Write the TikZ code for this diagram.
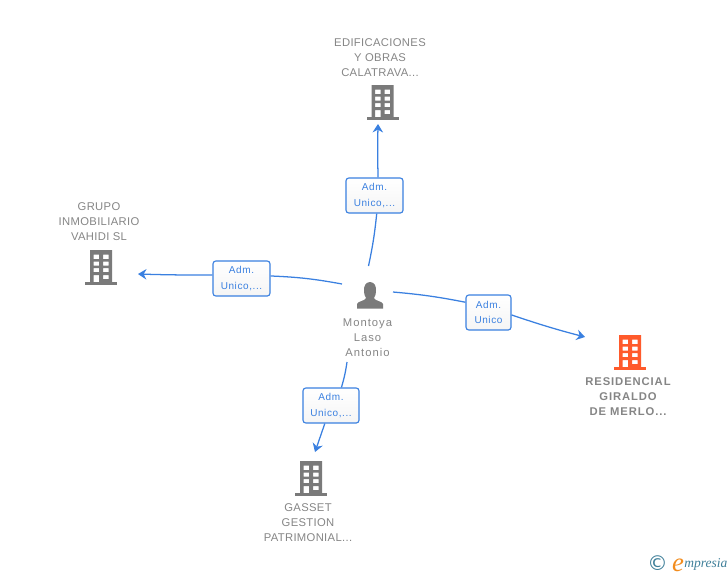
\documentclass[tikz,border=0pt]{standalone}
\usepackage{fontspec}
\setmainfont{Liberation Sans}
\newfontfamily\labelfont[LetterSpace=3]{Liberation Sans}
\newfontfamily\personfont[LetterSpace=9]{Liberation Sans}
\newfontfamily\adminfont[LetterSpace=6]{Liberation Sans}
\newfontfamily\boldlabelfont[LetterSpace=8]{Liberation Sans Bold}
\newfontfamily\logofont{Liberation Serif Italic}
\newfontfamily\symbolfont{DejaVu Sans}
\usetikzlibrary{arrows.meta}
\definecolor{linkblue}{HTML}{3A80E0}
\definecolor{officegrey}{HTML}{7A7A7A}
\definecolor{textgrey}{HTML}{858585}
\definecolor{activeorange}{HTML}{FF5A2B}
\definecolor{logoteal}{HTML}{3F7F99}
\definecolor{logoorange}{HTML}{F28C1E}

\begin{document}
\begin{tikzpicture}[
            x=0.025cm,
            y=-0.025cm,
            >={Stealth[length=6pt, width=7.5pt, inset=2pt]},
            link/.style={draw=linkblue, line width=0.9pt},
            admin/.style={
                draw=linkblue,
                line width=0.8pt,
                rounded corners=2pt,
                top color=white,
                bottom color=black!4,
                text=linkblue,
                align=center,
                inner sep=0pt,
                minimum height=0.875cm,
                font=\adminfont\fontsize{7.1}{11}\selectfont
            },
            company/.style={
                text=textgrey,
                align=center,
                inner sep=0pt,
                font=\labelfont\fontsize{8}{10.6}\selectfont
            },
            building/.pic={
                \fill[#1, even odd rule] (-11,-17) rectangle (11,15)
                    (-7.5,-12.5) rectangle (-2,-8)   (2,-12.5) rectangle (7.5,-8)
                    (-7.5,-5.5) rectangle (-2,-1.5) (2,-5.5) rectangle (7.5,-1.5)
                    (-7.5,1) rectangle (-2,5)      (2,1) rectangle (7.5,5)
                    (-7.5,8) rectangle (-2,15)     (2,8) rectangle (7.5,12);
                \fill[#1] (-16,15) rectangle (16,18);
            }
        ]
            \useasboundingbox (0,0) rectangle (728,575);
            % companies
            \pic at (382.5,102) {building=officegrey};
            \pic at (101,267) {building=officegrey};
            \pic at (311,478) {building=officegrey};
            \pic at (630,352) {building=activeorange};
            \node[company] (edificaciones) at (380,58) {EDIFICACIONES\\Y OBRAS\\CALATRAVA...};
            \node[company] (grupo) at (99,222) {GRUPO\\INMOBILIARIO\\VAHIDI SL};
            \node[company] (gasset) at (308,523) {GASSET\\GESTION\\PATRIMONIAL...};
            \node[company, font=\boldlabelfont\fontsize{8}{10.6}\selectfont] (residencial) at (628,397) {RESIDENCIAL\\GIRALDO\\DE MERLO...};
            % person
            \fill[officegrey] (370,282) .. controls (365,282) and (364,287) .. (364,290)
                .. controls (364,294) and (365,297) .. (366,298)
                .. controls (365,301) and (358,301) .. (357,304)
                -- (357,308.5) -- (383,308.5) -- (383,304)
                .. controls (382,301) and (375,301) .. (374,298)
                .. controls (375,297) and (376,294) .. (376,290)
                .. controls (376,287) and (375,282) .. (370,282) -- cycle;
            \node[company, font=\personfont\fontsize{8}{10.6}\selectfont] (montoya) at (367.5,338) {Montoya\\Laso\\Antonio};
            % roles
            \node[admin, minimum width=1.425cm] (admup) at (374.5,195.5) {Adm.\\Unico,...};
            \node[admin, minimum width=1.425cm] (admleft) at (241.5,278.5) {Adm.\\Unico,...};
            \node[admin, minimum width=1.125cm] (admright) at (488.5,312.5) {Adm.\\Unico};
            \node[admin, minimum width=1.4cm] (admdown) at (331,405.5) {Adm.\\Unico,...};
            % free ends
            \coordinate (montoyaup) at (368.5,266);
            \coordinate (montoyaleft) at (342,284);
            \coordinate (montoyaright) at (393,292);
            \coordinate (montoyadown) at (347,362);
            \coordinate (tipup) at (378,124);
            \coordinate (tipleft) at (138,274);
            \coordinate (tipright) at (585,337);
            \coordinate (tipdown) at (315,452);
            % links
            \draw[link] (montoyaup) to[bend right=3] (admup.-83);
            \draw[link, ->] (admup.79) to[bend left=1] (tipup);
            \draw[link] (montoyaleft) to[bend right=4] (admleft.5);
            \draw[link, ->] (admleft.173) to[bend left=1] (tipleft);
            \draw[link] (montoyaright) to[bend left=3] (admright.156);
            \draw[link, ->] (admright.-6) to[bend right=2] (tipright);
            \draw[link] (montoyadown) to[bend left=4] (admdown.60);
            \draw[link, ->] (admdown.-109) -- (tipdown);
            % logo
            \node[text=logoteal, inner sep=0pt, font=\symbolfont\fontsize{14.5}{14.5}\selectfont] (copyright) at (657.5,563.5) {©};
            \node[text=logoorange, inner sep=0pt, font=\logofont\fontsize{19}{19}\selectfont] (logoe) at (678,565) {e};
            \node[text=logoteal, inner sep=0pt, anchor=west, font=\logofont\fontsize{9.6}{10}\selectfont] (logotext) at (684,564.5) {mpresia};
        \end{tikzpicture}
\end{document}
